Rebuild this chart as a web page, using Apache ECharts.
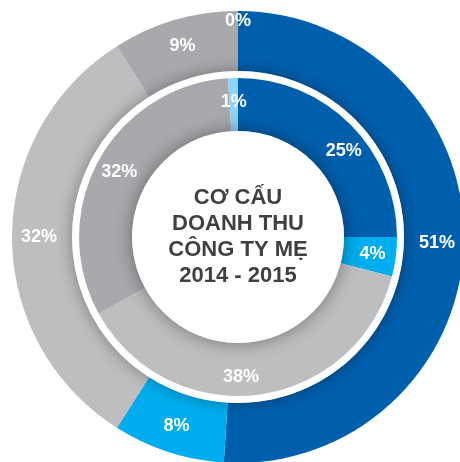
<!DOCTYPE html>
<html>
<head>
<meta charset="utf-8">
<script src="https://cdn.jsdelivr.net/npm/echarts@6/dist/echarts.min.js"></script>
<style>
html,body{margin:0;padding:0;background:#fff;}
#chart{width:460px;height:462px;}
</style>
</head>
<body>
<div id="chart"></div>
<script>
// Outer ring (clockwise from top)
var outerNames = ['Xanh đậm', 'Xanh nhạt', 'Xám nhạt', 'Xám đậm', 'Khác'];
var outerValues = [51, 8, 32, 9, 0];
var outerColors = ['#005FAD', '#00AEEF', '#BCBEC0', '#A7A9AC', '#8DD4F5'];
// Inner ring (clockwise from top)
var innerNames = ['Xanh đậm', 'Xanh nhạt', 'Xám nhạt', 'Xám đậm', 'Khác'];
var innerValues = [25, 4, 38, 32, 1];
var innerColors = ['#005FAD', '#00AEEF', '#BCBEC0', '#A7A9AC', '#8DD4F5'];
var centerLines = ['CƠ CẤU', 'DOANH THU', 'CÔNG TY MẸ', '2014 - 2015'];

function buildData(names, values, colors) {
  return names.map(function (n, i) {
    return { name: n, value: values[i], itemStyle: { color: colors[i] } };
  });
}

var labelStyle = {
  show: true,
  position: 'inside',
  formatter: '{c}%',
  color: '#ffffff',
  fontFamily: 'Liberation Sans, Arial, sans-serif',
  fontWeight: 'bold',
  fontSize: 18
};

var chart = echarts.init(document.getElementById('chart'), null, { renderer: 'canvas' });
chart.setOption({
  backgroundColor: '#ffffff',
  animation: false,
  series: [
    {
      type: 'pie',
      center: [238, 237],
      radius: [166, 226],
      startAngle: 90,
      clockwise: true,
      avoidLabelOverlap: false,
      silent: true,
      label: labelStyle,
      labelLine: { show: false },
      labelLayout: function (p) {
        if (p.dataIndex === 4) return { dy: -17 };
        return {};
      },
      data: buildData(outerNames, outerValues, outerColors)
    },
    {
      type: 'pie',
      center: [238, 237],
      radius: [0, 166],
      silent: true,
      label: { show: false },
      labelLine: { show: false },
      itemStyle: { color: '#ffffff', shadowBlur: 16, shadowColor: 'rgba(0,0,0,0.35)' },
      data: [{ name: 'sep', value: 1 }]
    },
    {
      type: 'pie',
      center: [238, 237],
      radius: [106, 159],
      startAngle: 90,
      clockwise: true,
      avoidLabelOverlap: false,
      silent: true,
      label: labelStyle,
      labelLine: { show: false },
      labelLayout: function (p) {
        if (p.dataIndex === 0) return { dx: 10, dy: 10 };
        if (p.dataIndex === 2) return { dx: -14, dy: 6 };
        return {};
      },
      data: buildData(innerNames, innerValues, innerColors)
    },
    {
      type: 'pie',
      center: [238, 237],
      radius: [0, 106],
      silent: true,
      label: {
        show: true,
        position: 'center',
        formatter: function () { return centerLines.join('\n'); },
        color: '#404041',
        fontFamily: 'Liberation Sans, Arial, sans-serif',
        fontWeight: 'bold',
        fontSize: 22,
        lineHeight: 26
      },
      labelLine: { show: false },
      itemStyle: { color: '#ffffff', shadowBlur: 18, shadowColor: 'rgba(0,0,0,0.4)' },
      data: [{ name: 'center', value: 1 }]
    }
  ]
});
</script>
</body>
</html>
